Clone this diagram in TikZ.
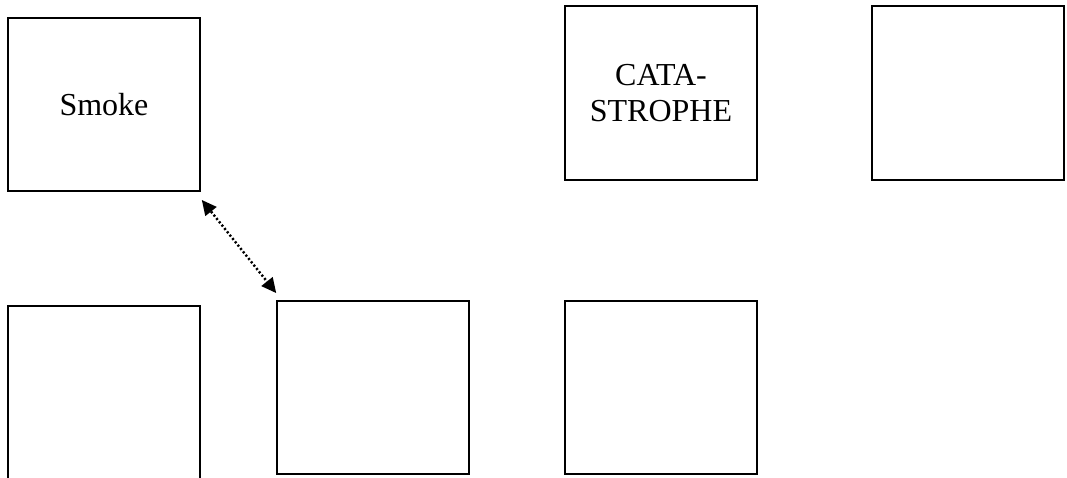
\documentclass[tikz,border=0pt]{standalone}
\usepackage{fontspec}
\setmainfont{Liberation Serif}
\usetikzlibrary{arrows.meta,calc}
\begin{document}
\begin{tikzpicture}[x=0.75pt,y=-0.75pt,
  box/.style={draw=black,line width=1.3pt,rectangle,inner sep=0pt,
    minimum width=144pt,minimum height=130pt,align=center,
    font=\fontsize{24}{27.6}\selectfont},
  dotarr/.style={line width=1.8pt,dash pattern=on 1.6pt off 1.6pt,
    {Triangle[length=11pt,width=11pt,line width=0pt]}-{Triangle[length=11pt,width=11pt,line width=0pt]}}]
\clip (0,0) rectangle (1067,478);
\fill[white] (0,0) rectangle (1067,478);
\node[box] (smoke) at (104,104.5) {Smoke};
\node[box] (cata) at (661,93) {CATA-\\STROPHE};
\node[box] (tr) at (968,93) {};
\node[box,minimum height=135pt] (bl) at (104,396) {};
\node[box] (mid) at (373,387.5) {};
\node[box] (br) at (661,387.5) {};
\draw[dotarr] ($(smoke.south east)+(1,8)$) -- ($(mid.north west)+(0,-7)$);
\end{tikzpicture}
\end{document}
